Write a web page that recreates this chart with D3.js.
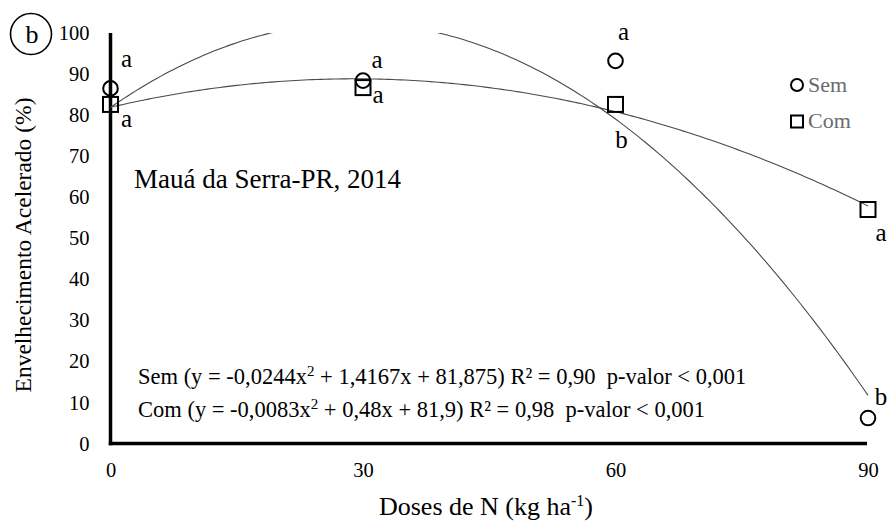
<!DOCTYPE html>
<html>
<head>
<meta charset="utf-8">
<script src="https://cdn.jsdelivr.net/npm/d3@7"></script>
</head>
<body style="margin:0;padding:0;background:#fff">
<svg id="chart" width="888" height="526"></svg>
<script>
// Nitrogen doses (kg ha-1)
const doses = [0, 30, 60, 90];
// Accelerated ageing (%) observed means
const semValues = [86.5, 88.4, 93.2, 6.2];
const comValues = [82.6, 86.7, 82.6, 57.0];
// Mean-comparison letters
const semLetters = ["a", "a", "a", "b"];
const comLetters = ["a", "a", "b", "a"];
// Fitted quadratic coefficients [a, b, c] for y = a x^2 + b x + c
const semCoef = [-0.0244, 1.4167, 81.875];
const comCoef = [-0.0083, 0.48, 81.9];
const yTicks = [0, 10, 20, 30, 40, 50, 60, 70, 80, 90, 100];
const xTicks = [0, 30, 60, 90];
const seriesNames = ["Sem", "Com"];

const FONT = "'Liberation Serif', 'Times New Roman', serif";
const svg = d3.select("#chart");
const x = d3.scaleLinear().domain([0, 90]).range([110.5, 868]);
const y = d3.scaleLinear().domain([0, 100]).range([443.5, 33]);

// Axes: bare lines with text labels only
const yAxis = d3.axisLeft(y).tickValues(yTicks).tickSize(0).tickPadding(21);
const gy = svg.append("g").attr("transform", `translate(${x(0)},0)`).call(yAxis);
gy.select(".domain").remove();
gy.selectAll("text").attr("fill", "#000").attr("font-size", 20.5);

const xAxis = d3.axisBottom(x).tickValues(xTicks).tickSize(0).tickPadding(19);
const gx = svg.append("g").attr("transform", `translate(0,${y(0)})`).call(xAxis);
gx.select(".domain").remove();
gx.selectAll("text").attr("fill", "#000").attr("font-size", 20.5);

svg.append("line").attr("x1", x(0)).attr("x2", x(0))
  .attr("y1", y(100)).attr("y2", y(0) + 1.75)
  .attr("stroke", "#000").attr("stroke-width", 3.5);
svg.append("line").attr("x1", x(0) - 1.75).attr("x2", x(90) - 1)
  .attr("y1", y(0)).attr("y2", y(0))
  .attr("stroke", "#000").attr("stroke-width", 3.5);

// Fitted curves, clipped at the top of the axis
svg.append("clipPath").attr("id", "plotClip")
  .append("rect").attr("x", x(0)).attr("y", y(100))
  .attr("width", x(90) - x(0) + 2).attr("height", y(0) - y(100));

const quad = c => v => c[0] * v * v + c[1] * v + c[2];
const fineX = d3.range(0, 90.01, 0.5);
const line = f => d3.line().x(d => x(d)).y(d => y(f(d)))(fineX);
const curves = svg.append("g").attr("clip-path", "url(#plotClip)");
[semCoef, comCoef].forEach(c => {
  curves.append("path").attr("d", line(quad(c)))
    .attr("fill", "none").attr("stroke", "#4a4a4a").attr("stroke-width", 1.1);
});

// Observed means
const semPts = doses.map((d, i) => ({ x: d, y: semValues[i] }));
const comPts = doses.map((d, i) => ({ x: d, y: comValues[i] }));

svg.append("g").selectAll("circle").data(semPts).join("circle")
  .attr("cx", d => x(d.x)).attr("cy", d => y(d.y)).attr("r", 7.3)
  .attr("fill", "none").attr("stroke", "#000").attr("stroke-width", 2);

svg.append("g").selectAll("rect").data(comPts).join("rect")
  .attr("x", d => x(d.x) - 7.5).attr("y", d => y(d.y) - 7.5)
  .attr("width", 15).attr("height", 15)
  .attr("fill", "none").attr("stroke", "#000").attr("stroke-width", 2);

// Letters next to each mean
const semOffsets = [[16, -21], [14, -13], [8, -21], [13, -13]];
const comOffsets = [[16, 23], [15, 15.5], [6, 44], [13, 31]];
const lettersG = svg.append("g").attr("font-size", 25).attr("fill", "#000");
semPts.forEach((d, i) => {
  lettersG.append("text").attr("x", x(d.x) + semOffsets[i][0])
    .attr("y", y(d.y) + semOffsets[i][1]).attr("text-anchor", "middle")
    .text(semLetters[i]);
});
comPts.forEach((d, i) => {
  lettersG.append("text").attr("x", x(d.x) + comOffsets[i][0])
    .attr("y", y(d.y) + comOffsets[i][1]).attr("text-anchor", "middle")
    .text(comLetters[i]);
});

// Legend
const legend = svg.append("g");
legend.append("circle").attr("cx", 797).attr("cy", 85).attr("r", 6)
  .attr("fill", "none").attr("stroke", "#000").attr("stroke-width", 2);
legend.append("rect").attr("x", 791).attr("y", 115.5).attr("width", 12).attr("height", 12)
  .attr("fill", "none").attr("stroke", "#000").attr("stroke-width", 2);
legend.selectAll("text").data(seriesNames).join("text")
  .attr("x", 808).attr("y", (d, i) => 92 + i * 36)
  .attr("font-size", 22).attr("fill", "#6b6b6b").text(d => d);

// Site label
svg.append("text").attr("x", 134).attr("y", 188).attr("font-size", 27)
  .attr("fill", "#000").text("Mauá da Serra-PR, 2014");

// Regression equations
const eq = svg.append("g").attr("font-size", 22.5).attr("fill", "#000");
const eq1 = eq.append("text").attr("x", 138).attr("y", 384).style("white-space", "pre");
eq1.append("tspan").text("Sem (y = -0,0244x");
eq1.append("tspan").attr("dy", -8).attr("font-size", 15).text("2");
eq1.append("tspan").attr("dy", 8).text(" + 1,4167x + 81,875) R² = 0,90  p-valor < 0,001");
const eq2 = eq.append("text").attr("x", 138).attr("y", 417).style("white-space", "pre");
eq2.append("tspan").text("Com (y = -0,0083x");
eq2.append("tspan").attr("dy", -8).attr("font-size", 15).text("2");
eq2.append("tspan").attr("dy", 8).text(" + 0,48x + 81,9) R² = 0,98  p-valor < 0,001");

// Axis titles
svg.append("text")
  .attr("transform", `translate(31,245) rotate(-90)`)
  .attr("text-anchor", "middle").attr("font-size", 23.5).attr("fill", "#000")
  .text("Envelhecimento Acelerado (%)");

const xt = svg.append("text").attr("x", 486).attr("y", 515)
  .attr("text-anchor", "middle").attr("font-size", 26).attr("fill", "#000");
xt.append("tspan").text("Doses de N (kg ha");
xt.append("tspan").attr("dy", -9).attr("font-size", 16).text("-1");
xt.append("tspan").attr("dy", 9).text(")");

// Panel tag
svg.append("circle").attr("cx", 31).attr("cy", 34).attr("r", 20.5)
  .attr("fill", "none").attr("stroke", "#000").attr("stroke-width", 1.6);
svg.append("text").attr("x", 32).attr("y", 43).attr("text-anchor", "middle")
  .attr("font-size", 26).attr("fill", "#000").text("b");

// Serif face for every label
svg.selectAll("text").style("font-family", FONT);
</script>
</body>
</html>
